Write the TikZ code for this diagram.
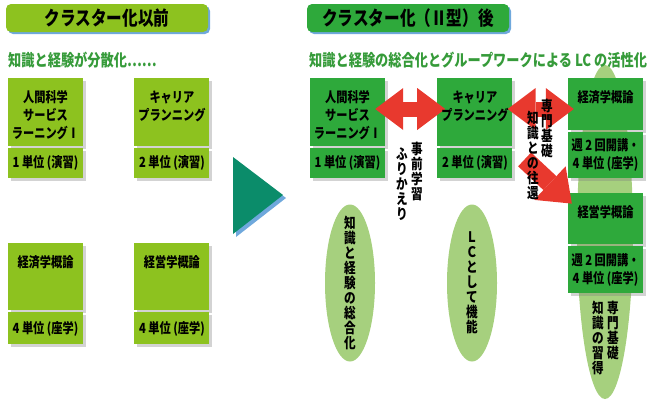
\documentclass[tikz,border=0pt]{standalone}
\usepackage{fontspec}
\setmainfont{Noto Sans CJK JP}[FakeStretch=0.8]
\usetikzlibrary{arrows.meta,positioning,shapes.geometric,shadows}
\definecolor{lime}{HTML}{8DC21F}
\definecolor{leaf}{HTML}{2EA93B}
\definecolor{pale}{HTML}{A6D07E}
\definecolor{signal}{HTML}{E8392E}
\definecolor{sea}{HTML}{0B8C6A}
\definecolor{sky}{HTML}{6FA8DC}
\definecolor{moss}{HTML}{369B3A}
\tikzset{
  lbox/.style={fill=lime,minimum width=75pt,inner sep=0pt,align=center,font=\bfseries\fontsize{14}{18}\selectfont,
    drop shadow={shadow xshift=3pt,shadow yshift=-3pt,opacity=.35}},
  dbox/.style={lbox,fill=leaf},
  banner/.style={rounded corners=5pt,minimum width=202pt,minimum height=28pt,inner sep=0pt,font=\bfseries\fontsize{19.5}{19.5}\selectfont,
    drop shadow={shadow xshift=2pt,shadow yshift=-2pt,fill=sky,opacity=1}},
  subttl/.style={inner sep=0pt,text=moss,font=\bfseries\fontsize{16.5}{17}\selectfont},
  btxt/.style={inner sep=0pt,align=center,font=\bfseries\fontsize{14}{18}\selectfont},
  vtxt/.style={inner sep=0pt,align=center,font=\bfseries\fontsize{14.5}{15}\selectfont},
  oval/.style={ellipse,fill=pale,inner sep=0pt},
  twoway/.style={line width=15pt,signal,{Triangle[length=28pt,width=42pt,line width=0pt]}-{Triangle[length=28pt,width=42pt,line width=0pt]}},
  oneway/.style={line width=19pt,signal,-{Triangle[length=30pt,width=46pt,line width=0pt]}}
}
\begin{document}
\begin{tikzpicture}[x=1pt,y=-1pt]
\useasboundingbox (0,0) rectangle (660,400);
% column behind the right boxes
\node[oval,minimum width=56pt,minimum height=334pt] (col) at (605,232) {};
% headings
\node[banner,fill=lime] (before) at (107,18) {クラスター化以前};
\node[banner,fill=leaf] (after) at (408,18) {クラスター化（Ⅱ型）後};
\node[subttl,anchor=west] (subL) at (8,60) {知識と経験が分散化……};
\node[subttl,anchor=west] (subR) at (309,60) {知識と経験の総合化とグループワークによる LC の活性化};
% big arrow
\fill[sea,drop shadow={shadow xshift=3pt,shadow yshift=-3pt,fill=sky,opacity=1}] (233,157) -- (283,195) -- (233,234) -- cycle;
% ovals
\node[oval,minimum width=50pt,minimum height=157pt] (sum) at (350,283) {};
\node[oval,minimum width=50pt,minimum height=157pt] (lc) at (472,283) {};
% before
\node[lbox,minimum height=68pt] (hs) at (45.5,112) {};
\node[lbox,minimum height=30pt,below=2pt of hs] (hsu) {1 単位 (演習)};
\node[lbox,minimum height=68pt,right=51pt of hs] (cp) {};
\node[lbox,minimum height=30pt,below=2pt of cp] (cpu) {2 単位 (演習)};
\node[lbox,minimum height=67pt] (ec) at (45.5,276.5) {};
\node[lbox,minimum height=32pt,below=2pt of ec] (ecu) {4 単位 (座学)};
\node[lbox,minimum height=67pt,right=51pt of ec] (bm) {};
\node[lbox,minimum height=32pt,below=2pt of bm] (bmu) {4 単位 (座学)};
% after
\node[dbox,minimum height=68pt] (hs2) at (347.5,112) {};
\node[dbox,minimum height=30pt,below=2pt of hs2] (hs2u) {1 単位 (演習)};
\node[dbox,minimum height=68pt,right=52pt of hs2] (cp2) {};
\node[dbox,minimum height=30pt,below=2pt of cp2] (cp2u) {2 単位 (演習)};
\node[dbox,minimum height=52pt] (ec2) at (605.5,104) {};
\node[dbox,minimum height=46pt,below=2pt of ec2] (ec2u) {週 2 回開講・\\4 単位 (座学)};
\node[dbox,minimum height=51pt,below=14pt of ec2u] (bm2) {};
\node[dbox,minimum height=47pt,below=2pt of bm2] (bm2u) {週 2 回開講・\\4 単位 (座学)};
% red arrows
\draw[twoway,shorten <=-10pt,shorten >=-8pt] ([yshift=3pt]hs2.east) -- ([yshift=3pt]cp2.west);
\draw[twoway,shorten <=-5pt,shorten >=-6pt] ([yshift=3pt]cp2.east) -- ([yshift=3pt]cp2.east -| ec2.west);
\draw[oneway] ([xshift=12pt,yshift=4pt]cp2u.east) -- ([xshift=4pt,yshift=-11pt]bm2.north west);
% box titles
\node[btxt] (hsT) at ([yshift=-3pt]hs.center) {人間科学\\サービス\\ラーニングⅠ};
\node[btxt] (cpT) at ([yshift=6pt]cp.center) {キャリア\\プランニング};
\node[btxt] (ecT) at ([yshift=14pt]ec.center) {経済学概論};
\node[btxt] (bmT) at ([yshift=14pt]bm.center) {経営学概論};
\node[btxt] (hs2T) at ([yshift=-3pt]hs2.center) {人間科学\\サービス\\ラーニングⅠ};
\node[btxt] (cp2T) at ([yshift=6pt]cp2.center) {キャリア\\プランニング};
\node[btxt] (ec2T) at ([yshift=7pt]ec2.center) {経済学概論};
\node[btxt] (bm2T) at ([yshift=6pt]bm2.center) {経営学概論};
% vertical labels
\node[vtxt] (prep) at (417,171) {事\\前\\学\\習};
\node[vtxt] (review) at (402,184) {ふ\\り\\か\\え\\り};
\node[vtxt] (base1) at (547,128) {専\\門\\基\\礎};
\node[vtxt] (base2) at (533,155) {知\\識\\と\\の\\往\\還};
\node[vtxt] (sumT) at (sum) {知\\識\\と\\経\\験\\の\\総\\合\\化};
\node[vtxt] (lcT) at (lc) {Ｌ\\Ｃ\\と\\し\\て\\機\\能};
\node[vtxt,anchor=north] (gain1) at (613,301) {専\\門\\基\\礎};
\node[vtxt,anchor=north] (gain2) at (598,301) {知\\識\\の\\習\\得};
\end{tikzpicture}
\end{document}
